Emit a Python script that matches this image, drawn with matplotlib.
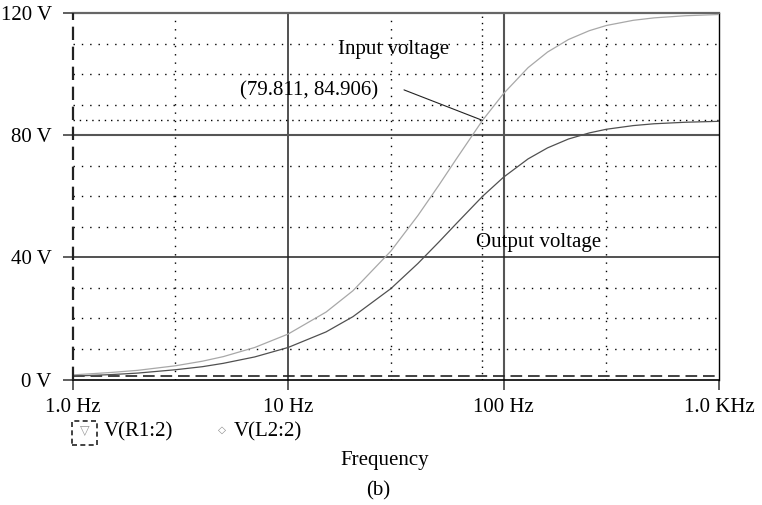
import matplotlib
matplotlib.use("Agg")
import matplotlib.pyplot as plt
from matplotlib.patches import Rectangle

# frequency sweep (Hz) and node voltages (V)
freq = [1, 1.5, 2, 3, 4, 5, 7, 10, 15, 20, 30, 40, 50, 60, 79.811,
        100, 130, 160, 200, 250, 300, 400, 500, 700, 1000]
v_in = [1.5, 2.3, 3.0, 4.5, 6.0, 7.5, 10.5, 14.9, 22.1, 29.1, 42.1, 53.7, 63.6, 72.0, 84.906,
        93.7, 102.2, 107.3, 111.4, 114.3, 116.0, 117.7, 118.5, 119.2, 119.6]
v_out = [1.1, 1.6, 2.1, 3.2, 4.2, 5.3, 7.4, 10.5, 15.6, 20.6, 29.8, 38.0, 45.0, 50.9, 60.0,
         66.3, 72.3, 75.9, 78.8, 80.8, 82.0, 83.2, 83.8, 84.3, 84.6]

x_ticks = [1, 10, 100, 1000]
x_labels = ["1.0 Hz", "10 Hz", "100 Hz", "1.0 KHz"]
y_ticks = [0, 40, 80, 120]
y_labels = ["0 V", "40 V", "80 V", "120 V"]

# cursor 1 on V(L2:2), cursor 2 on V(R1:2)
cursor_f = 79.811
cursor_v = 84.906
cursor2_f = 1.0
cursor2_v = 1.15

plt.rcParams["font.family"] = ["Liberation Serif", "DejaVu Serif"]
plt.rcParams["font.size"] = 15

fig = plt.figure(figsize=(7.62, 5.05), dpi=100)
ax = fig.add_axes([0.0954, 0.2485, 0.8482, 0.7252])
ax.set_xscale("log")
ax.set_xlim(1, 1000)
ax.set_ylim(0, 120)

# minor dotted grid
for f in [3, 30, 300]:
    ax.axvline(f, color="black", lw=1.0, ls=(0, (1, 5)), zorder=1)
for v in range(10, 120, 10):
    if v % 40:
        ax.axhline(v, color="black", lw=1.0, ls=(0, (1, 5)), zorder=1)

# major solid grid
ax.axvline(10, color="#222222", lw=1.1, zorder=1)
ax.axvline(100, color="#555555", lw=1.5, zorder=1)
ax.axhline(40, color="#222222", lw=1.1, zorder=1)
ax.axhline(80, color="#555555", lw=1.5, zorder=1)

# traces
ax.plot(freq, v_in, color="#a8a8a8", lw=0.9, zorder=3)
ax.plot(freq, v_out, color="#505050", lw=0.9, zorder=3)

# cursors
ax.axvline(cursor_f, color="black", lw=1.0, ls=(0, (1, 3.5)), zorder=2)
ax.axhline(cursor_v, color="black", lw=1.0, ls=(0, (1, 3.5)), zorder=2)
ax.axvline(cursor2_f, color="#222222", lw=1.6, ls=(0, (6, 3)), zorder=4, clip_on=False)
ax.axhline(cursor2_v, color="#222222", lw=1.2, ls=(0, (7, 3.5)), zorder=2)

ax.text(26.2, 94.6, f"({cursor_f}, {cursor_v})", ha="right", va="center")
ax.annotate("", xy=(cursor_f, cursor_v), xytext=(34.5, 94.9),
            arrowprops=dict(arrowstyle="-", color="#222222", lw=0.8, shrinkA=0, shrinkB=0))
ax.text(30.7, 108, "Input voltage", ha="center", va="center")
ax.text(144.6, 44.8, "Output voltage", ha="center", va="center")

ax.spines["left"].set_visible(False)
ax.spines["top"].set_color("#666666")
ax.spines["top"].set_linewidth(1.6)
ax.spines["right"].set_linewidth(1.0)
ax.spines["bottom"].set_linewidth(1.2)

ax.set_xticks(x_ticks)
ax.set_xticklabels(x_labels)
ax.set_yticks(y_ticks)
ax.set_yticklabels(y_labels)
ax.minorticks_off()
ax.tick_params(axis="both", direction="out", length=7, width=1.1, pad=6, color="#333333")
ax.tick_params(axis="y", pad=8)

# legend row and captions below the plot
box_w, box_h = 25 / 762, 24 / 505
fig.patches.append(Rectangle((72 / 762, 1 - 445 / 505), box_w, box_h, transform=fig.transFigure,
                             fill=False, ls=(0, (3, 2)), lw=1.2, ec="#222222"))
fig.text(85 / 762, 1 - 431 / 505, "\u25bd", color="#999999", fontsize=9,
         ha="center", va="center", family=["DejaVu Sans"])
fig.text(104 / 762, 1 - 432 / 505, "V(R1:2)", ha="left", va="center")
fig.text(222 / 762, 1 - 430 / 505, "\u25c7", color="#888888", fontsize=7.5,
         ha="center", va="center", family=["DejaVu Sans"])
fig.text(234 / 762, 1 - 432 / 505, "V(L2:2)", ha="left", va="center")
fig.text(385 / 762, 1 - 461 / 505, "Frequency", ha="center", va="center")
fig.text(378 / 762, 1 - 491 / 505, "(b)", ha="center", va="center")

fig.savefig("out.png", dpi=100)
